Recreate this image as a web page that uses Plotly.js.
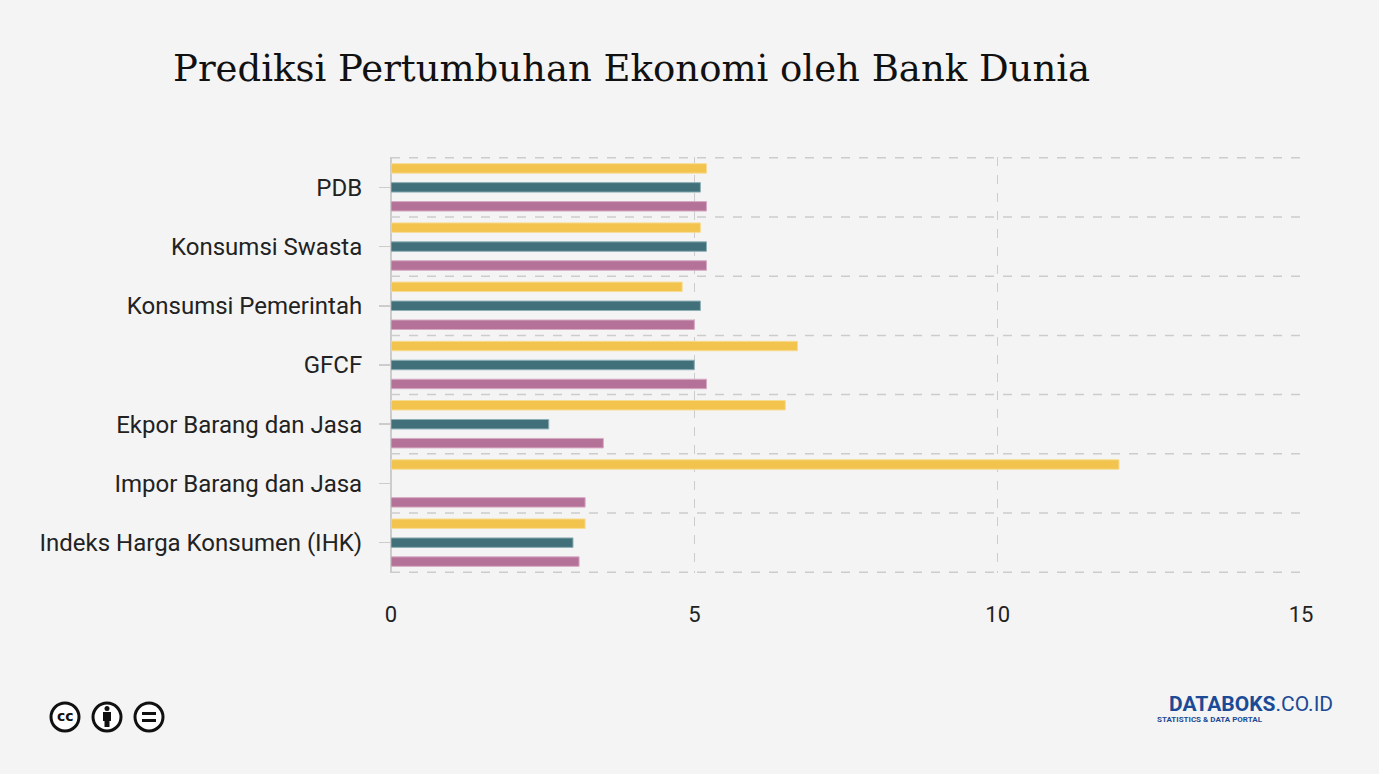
<!DOCTYPE html>
<html>
<head>
<meta charset="utf-8">
<script src="https://cdn.plot.ly/plotly-3.0.1.min.js"></script>
<style>
html,body{margin:0;padding:0;background:#f4f4f4;}
#chart{width:1379px;height:774px;}
</style>
</head>
<body>
<div id="chart"></div>
<script>
const categories = ["PDB","Konsumsi Swasta","Konsumsi Pemerintah","GFCF","Ekpor Barang dan Jasa","Impor Barang dan Jasa","Indeks Harga Konsumen (IHK)"];
const seriesYellow = [5.2, 5.1, 4.8, 6.7, 6.5, 12.0, 3.2];
const seriesTeal   = [5.1, 5.2, 5.1, 5.0, 2.6, null, 3.0];
const seriesPink   = [5.2, 5.2, 5.0, 5.2, 3.5, 3.2, 3.1];
const seriesNames = ["Seri 1","Seri 2","Seri 3"];
const xTicks = [0, 5, 10, 15];

const W = 1379, H = 774;
const M = {l: 391, r: 78, t: 157, b: 201};
const PW = W - M.l - M.r, PH = H - M.t - M.b;
const px = x => (x - M.l) / PW;          // page pixel -> paper x
const py = y => (H - M.b - y) / PH;      // page pixel -> paper y

const colors = ["#f2c44e", "#41707a", "#b57298"];
const lineColors = ["#f7dc94", "#8fb0b6", "#d6aac2"];
const data = [seriesYellow, seriesTeal, seriesPink].map((vals, i) => ({
  type: "bar",
  orientation: "h",
  name: seriesNames[i],
  y: categories,
  x: vals,
  marker: {color: colors[i], line: {color: lineColors[i], width: 1}},
  hoverinfo: "x+y"
}));

const shapes = [];
for (let i = 0; i <= categories.length; i++) {
  shapes.push({type: "line", xref: "paper", yref: "y", x0: 0, x1: 1, y0: i - 0.5, y1: i - 0.5,
    line: {color: "#cccccc", width: 1.5, dash: "dash"}, layer: "below"});
}
// CC icons
const iconX = [65, 107, 149], iconY = 717, R = 14;
iconX.forEach(cx => {
  shapes.push({type: "circle", xref: "paper", yref: "paper",
    x0: px(cx - R), x1: px(cx + R), y0: py(iconY + R), y1: py(iconY - R),
    line: {color: "#111", width: 3}, fillcolor: "#ffffff"});
});
// person icon: head + body
shapes.push({type: "circle", xref: "paper", yref: "paper", x0: px(104.5), x1: px(109.5), y0: py(711), y1: py(706),
  fillcolor: "#111", line: {width: 0}});
shapes.push({type: "rect", xref: "paper", yref: "paper", x0: px(103), x1: px(111), y0: py(721), y1: py(712),
  fillcolor: "#111", line: {width: 0}});
shapes.push({type: "rect", xref: "paper", yref: "paper", x0: px(104.5), x1: px(109.5), y0: py(727), y1: py(720),
  fillcolor: "#111", line: {width: 0}});
// equals icon
shapes.push({type: "rect", xref: "paper", yref: "paper", x0: px(142), x1: px(156), y0: py(715), y1: py(712),
  fillcolor: "#111", line: {width: 0}});
shapes.push({type: "rect", xref: "paper", yref: "paper", x0: px(142), x1: px(156), y0: py(722), y1: py(719),
  fillcolor: "#111", line: {width: 0}});

const annotations = [
  {text: "<b>cc</b>", x: px(65), y: py(716), xref: "paper", yref: "paper", showarrow: false,
   xanchor: "center", yanchor: "middle", font: {family: "DejaVu Sans", size: 14, color: "#111"}},
  {text: "<b>DATABOKS</b>.CO.ID", x: px(1334), y: py(704), xref: "paper", yref: "paper",
   xanchor: "right", yanchor: "middle", showarrow: false, borderpad: 0,
   font: {family: "Roboto", size: 21, color: "#1b4a96"}},
  {text: "<b>STATISTICS &amp; DATA PORTAL</b>", x: px(1156), y: py(719.5), xref: "paper", yref: "paper",
   xanchor: "left", yanchor: "middle", showarrow: false, borderpad: 0,
   font: {family: "Roboto", size: 8, color: "#1b4a96"}}
];

const layout = {
  width: W, height: H,
  paper_bgcolor: "#f4f4f4", plot_bgcolor: "#f4f4f4",
  margin: M,
  title: {text: "Prediksi Pertumbuhan Ekonomi oleh Bank Dunia", x: 173 / W, xanchor: "left",
          y: 1 - 68 / H, yanchor: "middle",
          font: {family: "DejaVu Serif", size: 37, color: "#111"}},
  showlegend: false,
  barmode: "group",
  bargap: 0.04,
  bargroupgap: 0.5,
  xaxis: {range: [0, 15], tickvals: xTicks, ticktext: xTicks.map(String), showgrid: true,
          gridcolor: "#cccccc", griddash: "dash", gridwidth: 1.5, zeroline: true, zerolinecolor: "#cccccc",
          zerolinewidth: 1.5, ticks: "", tickfont: {family: "Roboto", size: 22, color: "#222"},
          ticklabelstandoff: 26, fixedrange: true},
  yaxis: {autorange: "reversed", showgrid: false, ticks: "outside", ticklen: 11, tickcolor: "#cccccc",
          tickwidth: 1.5, tickfont: {family: "Roboto", size: 24, color: "#222"}, zeroline: false,
          ticklabelstandoff: 12, showline: false, fixedrange: true},
  shapes: shapes,
  annotations: annotations
};

Plotly.newPlot("chart", data, layout, {displayModeBar: false, staticPlot: true});
</script>
</body>
</html>
